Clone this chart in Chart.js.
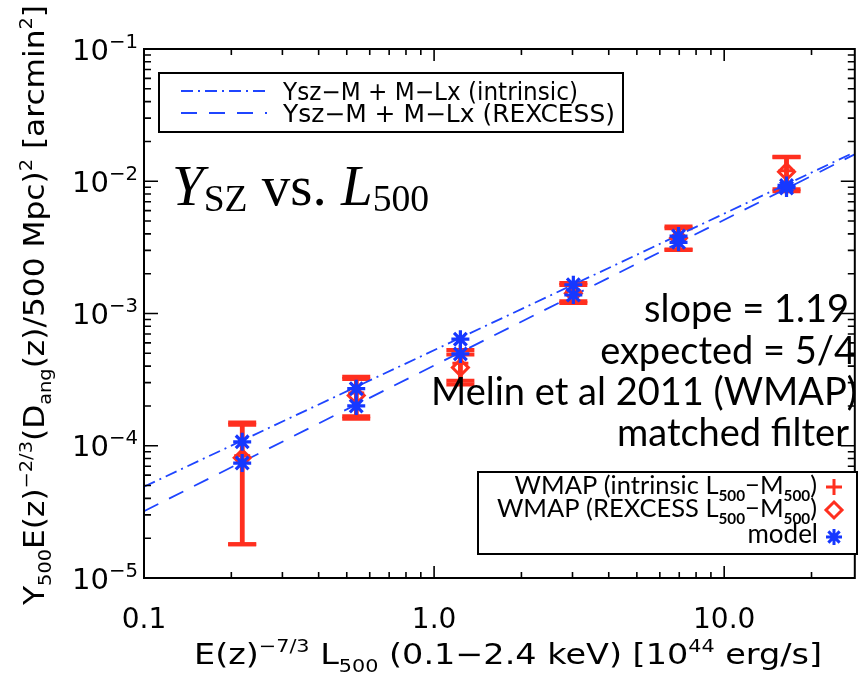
<!DOCTYPE html>
<html><head><meta charset="utf-8">
<script src="https://cdn.jsdelivr.net/npm/chart.js@4.4.1/dist/chart.umd.min.js"></script>
<style>html,body{margin:0;padding:0;background:#fff;} #wrap{width:867px;height:674px;position:relative;}</style>
</head><body><div id="wrap"><canvas id="c" width="867" height="674"></canvas></div>
<script>
// ---- data ----
const binL = [0.218, 0.539, 1.232, 3.02, 6.96, 16.4];
const wmapIntr = [8.4e-5, 2.5e-4, 4.2e-4, 1.47e-3, 3.8e-3, 1.2e-2];
const wmapIntrErr = [6.6e-5, 8.3e-5, 1.1e-4, 2.3e-4, 7.5e-4, 3.3e-3];
const wmapRex = [8.1e-5, 2.4e-4, 3.9e-4, 1.42e-3, 3.72e-3, 1.18e-2];
const wmapRexErr = [6.3e-5, 8.0e-5, 1.0e-4, 2.2e-4, 7.0e-4, 3.4e-3];
const modelIntr = [1.07e-4, 2.7e-4, 6.4e-4, 1.65e-3, 3.85e-3, 9.3e-3];
const modelRex = [7.4e-5, 2.0e-4, 4.95e-4, 1.38e-3, 3.45e-3, 8.9e-3];
const lineL = [0.1, 28.2];
const lineIntr = [4.9e-5, 1.66e-2];
const lineRex = [3.2e-5, 1.6e-2];
const xTickVals = [0.1, 1, 10];
const xTickLabels = ['0.1', '1.0', '10.0'];
const yTickVals = [1e-1, 1e-2, 1e-3, 1e-4, 1e-5];
const yTickExps = ['\u22121', '\u22122', '\u22123', '\u22124', '\u22125'];
const annotLines = ['slope = 1.19', 'expected = 5/4', 'Melin et al 2011 (WMAP)', 'matched filter'];

const RED = '#ff2f1f', BLUE = '#1638ff', LBLUE = '#1f45ff';
const IDLF = '"DejaVu Sans"';
const GILL = 'Lato';

function pts(xs, ys) { return xs.map((x, i) => ({x, y: ys[i]})); }

function richParts(ctx, segs, size, family) {
  return segs.map(s => {
    const k = s.k || 'n';
    const sz = k === 'n' ? size : size * (s.r || 0.62);
    const font = `${s.st || ''} ${s.w || ''} ${sz}px ${s.f || family}`;
    ctx.font = font;
    return {t: s.t, k, font, wd: ctx.measureText(s.t).width, dy: s.dy};
  });
}
// draws rich text; optional target width stretches horizontally
function rich(ctx, segs, x, y, align, size, family, target) {
  const parts = richParts(ctx, segs, size, family);
  const total = parts.reduce((a, p) => a + p.wd, 0);
  const sx = target ? target / total : 1;
  const W = total * sx;
  let cx = align === 'right' ? x - W : align === 'center' ? x - W / 2 : x;
  ctx.save();
  ctx.translate(cx, y);
  ctx.scale(sx, 1);
  ctx.textAlign = 'left';
  ctx.textBaseline = 'alphabetic';
  let px = 0;
  for (const p of parts) {
    ctx.font = p.font;
    let dy = p.k === 'u' ? -size * 0.42 : p.k === 'd' ? size * 0.26 : 0;
    if (p.dy !== undefined) dy = p.dy;
    ctx.fillText(p.t, px, dy);
    px += p.wd;
  }
  ctx.restore();
  return W;
}

const errPlugin = {
  id: 'err',
  beforeDatasetsDraw(chart) {
    const ctx = chart.ctx, xs = chart.scales.x, ys = chart.scales.y;
    ctx.save();
    ctx.strokeStyle = RED;
    [[wmapIntr, wmapIntrErr], [wmapRex, wmapRexErr]].forEach(([v, e]) => {
      binL.forEach((L, i) => {
        const px = xs.getPixelForValue(L);
        const hi = ys.getPixelForValue(v[i] + e[i]);
        const lo = ys.getPixelForValue(Math.max(v[i] - e[i], 1e-6));
        ctx.lineWidth = 4.5;
        ctx.beginPath(); ctx.moveTo(px, hi); ctx.lineTo(px, lo); ctx.stroke();
        ctx.lineWidth = 4;
        ctx.beginPath();
        ctx.moveTo(px - 14, hi); ctx.lineTo(px + 14, hi);
        ctx.moveTo(px - 14, lo); ctx.lineTo(px + 14, lo);
        ctx.stroke();
      });
    });
    ctx.restore();
  }
};

const framePlugin = {
  id: 'frame',
  beforeDraw(chart) {
    const ctx = chart.ctx;
    ctx.save(); ctx.fillStyle = '#fff'; ctx.fillRect(0, 0, chart.width, chart.height); ctx.restore();
  },
  afterDraw(chart) {
    const ctx = chart.ctx, xs = chart.scales.x, ys = chart.scales.y, a = chart.chartArea;
    ctx.save();
    ctx.fillStyle = '#000';
    // right text block
    ctx.font = `38px ${GILL}`;
    ctx.textAlign = 'right'; ctx.textBaseline = 'alphabetic';
    const base = [322, 363.5, 405, 446];
    const rightEdge = [849, 856, 857, 849];
    annotLines.forEach((t, i) => ctx.fillText(t, rightEdge[i], base[i]));

    // frame
    ctx.strokeStyle = '#000'; ctx.lineWidth = 2;
    ctx.strokeRect(a.left, a.top, a.right - a.left, a.bottom - a.top);
    ctx.lineWidth = 1.6;
    ctx.beginPath();
    for (let e = -5; e <= -1; e++) {
      for (let m = 1; m <= 9; m++) {
        const v = m * Math.pow(10, e);
        if (v > 0.1 * 1.0001) break;
        const py = ys.getPixelForValue(v);
        const len = m === 1 ? 14 : 7;
        ctx.moveTo(a.left, py); ctx.lineTo(a.left + len, py);
        ctx.moveTo(a.right, py); ctx.lineTo(a.right - len, py);
      }
    }
    for (let e = -1; e <= 1; e++) {
      for (let m = 1; m <= 9; m++) {
        const v = m * Math.pow(10, e);
        if (v > xs.max) break;
        const px = xs.getPixelForValue(v);
        const len = m === 1 ? 12 : 6;
        ctx.moveTo(px, a.bottom); ctx.lineTo(px, a.bottom - len);
        ctx.moveTo(px, a.top); ctx.lineTo(px, a.top + len);
      }
    }
    ctx.stroke();

    // y tick labels
    yTickVals.forEach((v, i) => {
      const py = ys.getPixelForValue(v);
      rich(ctx, [{t: '10'}, {t: yTickExps[i], k: 'u', r: 0.68, dy: -12}], 138, py + 10.5, 'right', 29, IDLF);
    });
    // x tick labels
    ctx.font = `28px ${IDLF}`;
    xTickVals.forEach((v, i) => {
      ctx.textAlign = 'center';
      ctx.fillText(xTickLabels[i], xs.getPixelForValue(v), 628);
    });
    // x title
    rich(ctx, [{t: 'E(z)'}, {t: '\u22127/3', k: 'u'}, {t: ' L'}, {t: '500', k: 'd'},
      {t: ' (0.1\u22122.4 keV) [10'}, {t: '44', k: 'u'}, {t: ' erg/s]'}],
      508, 664, 'center', 29, IDLF, 628);
    // y title
    ctx.save();
    ctx.translate(44, 305);
    ctx.rotate(-Math.PI / 2);
    rich(ctx, [{t: 'Y'}, {t: '500', k: 'd'}, {t: 'E(z)'}, {t: '\u22122/3', k: 'u'}, {t: '(D'},
      {t: 'ang', k: 'd'}, {t: '(z)/500 Mpc)'}, {t: '2', k: 'u'}, {t: ' [arcmin'}, {t: '2', k: 'u'}, {t: ']'}],
      0, 0, 'center', 28, IDLF, 600);
    ctx.restore();

    // big label
    rich(ctx, [{t: 'Y', st: 'italic'}, {t: 'SZ', k: 'd', r: 0.66, dy: 6}, {t: ' vs. '}, {t: 'L', st: 'italic'},
      {t: '500', k: 'd', r: 0.66, dy: 6}], 172, 205, 'left', 57, '"Liberation Serif"');

    // top-left legend
    ctx.lineWidth = 2; ctx.strokeStyle = '#000';
    ctx.strokeRect(159, 73, 464, 59);
    ctx.strokeStyle = LBLUE; ctx.lineWidth = 2;
    ctx.setLineDash([12, 5, 2, 5]);
    ctx.beginPath(); ctx.moveTo(181, 91); ctx.lineTo(267, 91); ctx.stroke();
    ctx.setLineDash([16, 12]);
    ctx.beginPath(); ctx.moveTo(181, 113); ctx.lineTo(267, 113); ctx.stroke();
    ctx.setLineDash([]);
    ctx.fillStyle = '#000';
    rich(ctx, [{t: 'Ysz\u2212M + M\u2212Lx (intrinsic)'}], 283, 99.5, 'left', 24, IDLF, 295);
    rich(ctx, [{t: 'Ysz\u2212M + M\u2212Lx (REXCESS)'}], 283, 122, 'left', 24, IDLF, 332);

    // bottom-right legend
    ctx.fillStyle = '#fff';
    ctx.fillRect(478, 472, 379, 82);
    ctx.strokeStyle = '#000'; ctx.lineWidth = 2;
    ctx.strokeRect(478, 472, 379, 82);
    ctx.fillStyle = '#000';
    rich(ctx, [{t: 'WMAP (intrinsic L'}, {t: '500', k: 'd', w: 'bold', r: 0.6}, {t: '\u2212M'}, {t: '500', k: 'd', w: 'bold', r: 0.6}, {t: ')'}], 817, 494, 'right', 25.5, GILL);
    rich(ctx, [{t: 'WMAP (REXCESS L'}, {t: '500', k: 'd', w: 'bold', r: 0.6}, {t: '\u2212M'}, {t: '500', k: 'd', w: 'bold', r: 0.6}, {t: ')'}], 817, 517, 'right', 25.5, GILL);
    ctx.font = `26px ${GILL}`; ctx.textAlign = 'right';
    ctx.fillText('model', 818, 543);
    // legend symbols
    ctx.lineWidth = 3; ctx.strokeStyle = RED;
    ctx.beginPath();
    ctx.moveTo(826, 487); ctx.lineTo(842, 487); ctx.moveTo(834, 479); ctx.lineTo(834, 495);
    ctx.stroke();
    ctx.beginPath();
    ctx.moveTo(834, 502); ctx.lineTo(842, 510); ctx.lineTo(834, 518); ctx.lineTo(826, 510); ctx.closePath();
    ctx.stroke();
    ctx.strokeStyle = BLUE;
    ctx.beginPath();
    const cx = 834, cy = 537, r = 8;
    for (let k = 0; k < 4; k++) {
      const ang = k * Math.PI / 4;
      ctx.moveTo(cx - r * Math.cos(ang), cy - r * Math.sin(ang));
      ctx.lineTo(cx + r * Math.cos(ang), cy + r * Math.sin(ang));
    }
    ctx.stroke();
    ctx.restore();
  }
};

new Chart(document.getElementById('c'), {
  type: 'scatter',
  data: {
    datasets: [
      {label: 'Ysz-M + M-Lx (intrinsic)', type: 'line', data: pts(lineL, lineIntr), borderColor: LBLUE,
        borderWidth: 1.8, borderDash: [12, 5, 2, 5], pointRadius: 0, fill: false, order: 6, clip: 0},
      {label: 'Ysz-M + M-Lx (REXCESS)', type: 'line', data: pts(lineL, lineRex), borderColor: LBLUE,
        borderWidth: 1.8, borderDash: [16, 12], pointRadius: 0, fill: false, order: 5, clip: 0},
      {label: 'WMAP (intrinsic)', data: pts(binL, wmapIntr), pointStyle: 'cross', pointRadius: 8,
        borderColor: RED, backgroundColor: RED, pointBorderWidth: 3, order: 3},
      {label: 'WMAP (REXCESS)', data: pts(binL, wmapRex), pointStyle: 'rectRot', pointRadius: 8,
        borderColor: RED, backgroundColor: 'rgba(0,0,0,0)', pointBorderWidth: 3, order: 4},
      {label: 'model intrinsic', data: pts(binL, modelIntr), pointStyle: 'star', pointRadius: 9,
        borderColor: BLUE, backgroundColor: BLUE, pointBorderWidth: 3.2, order: 1},
      {label: 'model REXCESS', data: pts(binL, modelRex), pointStyle: 'star', pointRadius: 9,
        borderColor: BLUE, backgroundColor: BLUE, pointBorderWidth: 3.2, order: 2}
    ]
  },
  options: {
    responsive: false,
    animation: false,
    layout: {padding: {left: 144, right: 5, top: 49, bottom: 96}},
    plugins: {legend: {display: false}, tooltip: {enabled: false}},
    scales: {
      x: {type: 'logarithmic', min: 0.1, max: 28.2, display: false},
      y: {type: 'logarithmic', min: 1e-5, max: 0.1, display: false}
    }
  },
  plugins: [errPlugin, framePlugin]
});
</script>
</body></html>
